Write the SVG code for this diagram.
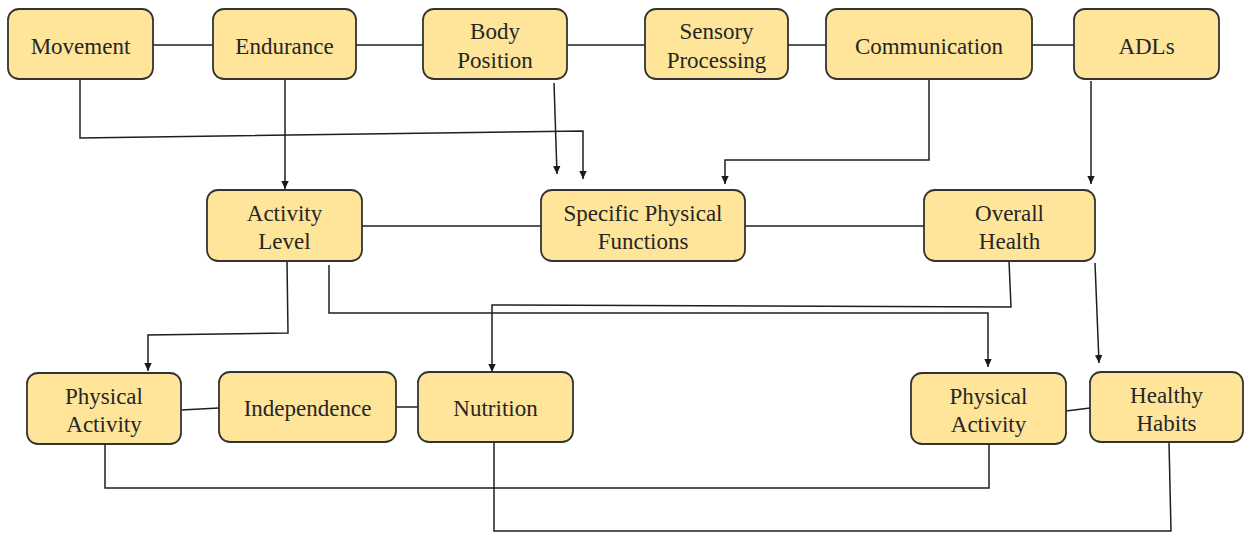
<svg xmlns="http://www.w3.org/2000/svg" width="1246" height="533" viewBox="0 0 1246 533">
  <defs>
    <marker id="head" markerUnits="userSpaceOnUse" markerWidth="8" markerHeight="9" refX="8" refY="4.5" orient="auto" viewBox="0 0 8 9">
      <path d="M0,0.8 L8,4.5 L0,8.2 Z" fill="#1a1a1a"/>
    </marker>
  </defs>
  <style>
    .box { fill: #FFE599; stroke: #333333; stroke-width: 1.8; }
    text { font-family: 'Liberation Serif', 'DejaVu Serif', serif; font-size: 23px; fill: #262626; text-anchor: middle; }
    .wire { fill: none; stroke: #1f1f1f; stroke-width: 1.5; }
    .arr { marker-end: url(#head); }
  </style>
  <rect width="1246" height="533" fill="#ffffff"/>

  <!-- connectors -->
  <g id="connectors">
    <!-- top row links -->
    <path class="wire" d="M153 45 H213"/>
    <path class="wire" d="M356 45 H423"/>
    <path class="wire" d="M567 45 H645"/>
    <path class="wire" d="M788 45 H826"/>
    <path class="wire" d="M1032 45 H1074"/>
    <!-- middle row links -->
    <path class="wire" d="M362 226 H541"/>
    <path class="wire" d="M745 226 H924"/>
    <!-- bottom row links -->
    <path class="wire" d="M181 410 L219 408"/>
    <path class="wire" d="M396 407 H418"/>
    <path class="wire" d="M1066 411 L1090 408"/>
    <!-- top to middle -->
    <path class="wire arr" d="M285 79 V189"/>
    <path class="wire arr" d="M80 79 V138 L583 131 V179"/>
    <path class="wire arr" d="M554 83 L557 174"/>
    <path class="wire arr" d="M929 79 V160 H725 V184"/>
    <path class="wire arr" d="M1091 81 V184"/>
    <!-- middle to bottom -->
    <path class="wire arr" d="M287 261 L288 333 L148 335 V371"/>
    <path class="wire arr" d="M329 265 V313 H988 V367"/>
    <path class="wire arr" d="M1009 261 L1011 307 L492 305 V372"/>
    <path class="wire arr" d="M1095 263 L1099 363"/>
    <!-- bottom loops -->
    <path class="wire" d="M105 444 V488 H989 V444"/>
    <path class="wire" d="M494 442 V531 H1171 L1169 442"/>
  </g>

  <!-- top row -->
  <g id="movement">
    <rect class="box" x="8" y="9" width="145" height="70" rx="11"/>
    <text x="80.5" y="54">Movement</text>
  </g>
  <g id="endurance">
    <rect class="box" x="213" y="9" width="143" height="70" rx="11"/>
    <text x="284.5" y="54">Endurance</text>
  </g>
  <g id="body-position">
    <rect class="box" x="423" y="9" width="144" height="70" rx="11"/>
    <text x="495" y="39">Body</text>
    <text x="495" y="68">Position</text>
  </g>
  <g id="sensory-processing">
    <rect class="box" x="645" y="9" width="143" height="70" rx="11"/>
    <text x="716.5" y="39">Sensory</text>
    <text x="716.5" y="68">Processing</text>
  </g>
  <g id="communication">
    <rect class="box" x="826" y="9" width="206" height="70" rx="11"/>
    <text x="929" y="54">Communication</text>
  </g>
  <g id="adls">
    <rect class="box" x="1074" y="9" width="145" height="70" rx="11"/>
    <text x="1146.5" y="54">ADLs</text>
  </g>

  <!-- middle row -->
  <g id="activity-level">
    <rect class="box" x="207" y="190" width="155" height="71" rx="11"/>
    <text x="284.5" y="221">Activity</text>
    <text x="284.5" y="249">Level</text>
  </g>
  <g id="specific-physical-functions">
    <rect class="box" x="541" y="190" width="204" height="71" rx="11"/>
    <text x="643" y="221">Specific Physical</text>
    <text x="643" y="249">Functions</text>
  </g>
  <g id="overall-health">
    <rect class="box" x="924" y="190" width="171" height="71" rx="11"/>
    <text x="1009.5" y="221">Overall</text>
    <text x="1009.5" y="249">Health</text>
  </g>

  <!-- bottom row -->
  <g id="physical-activity-left">
    <rect class="box" x="27" y="373" width="154" height="71" rx="11"/>
    <text x="104" y="404">Physical</text>
    <text x="104" y="432">Activity</text>
  </g>
  <g id="independence">
    <rect class="box" x="219" y="372" width="177" height="70" rx="11"/>
    <text x="307.5" y="416">Independence</text>
  </g>
  <g id="nutrition">
    <rect class="box" x="418" y="372" width="155" height="70" rx="11"/>
    <text x="495.5" y="416">Nutrition</text>
  </g>
  <g id="physical-activity-right">
    <rect class="box" x="911" y="373" width="155" height="71" rx="11"/>
    <text x="988.5" y="404">Physical</text>
    <text x="988.5" y="432">Activity</text>
  </g>
  <g id="healthy-habits">
    <rect class="box" x="1090" y="372" width="153" height="70" rx="11"/>
    <text x="1166.5" y="403">Healthy</text>
    <text x="1166.5" y="431">Habits</text>
  </g>
</svg>
